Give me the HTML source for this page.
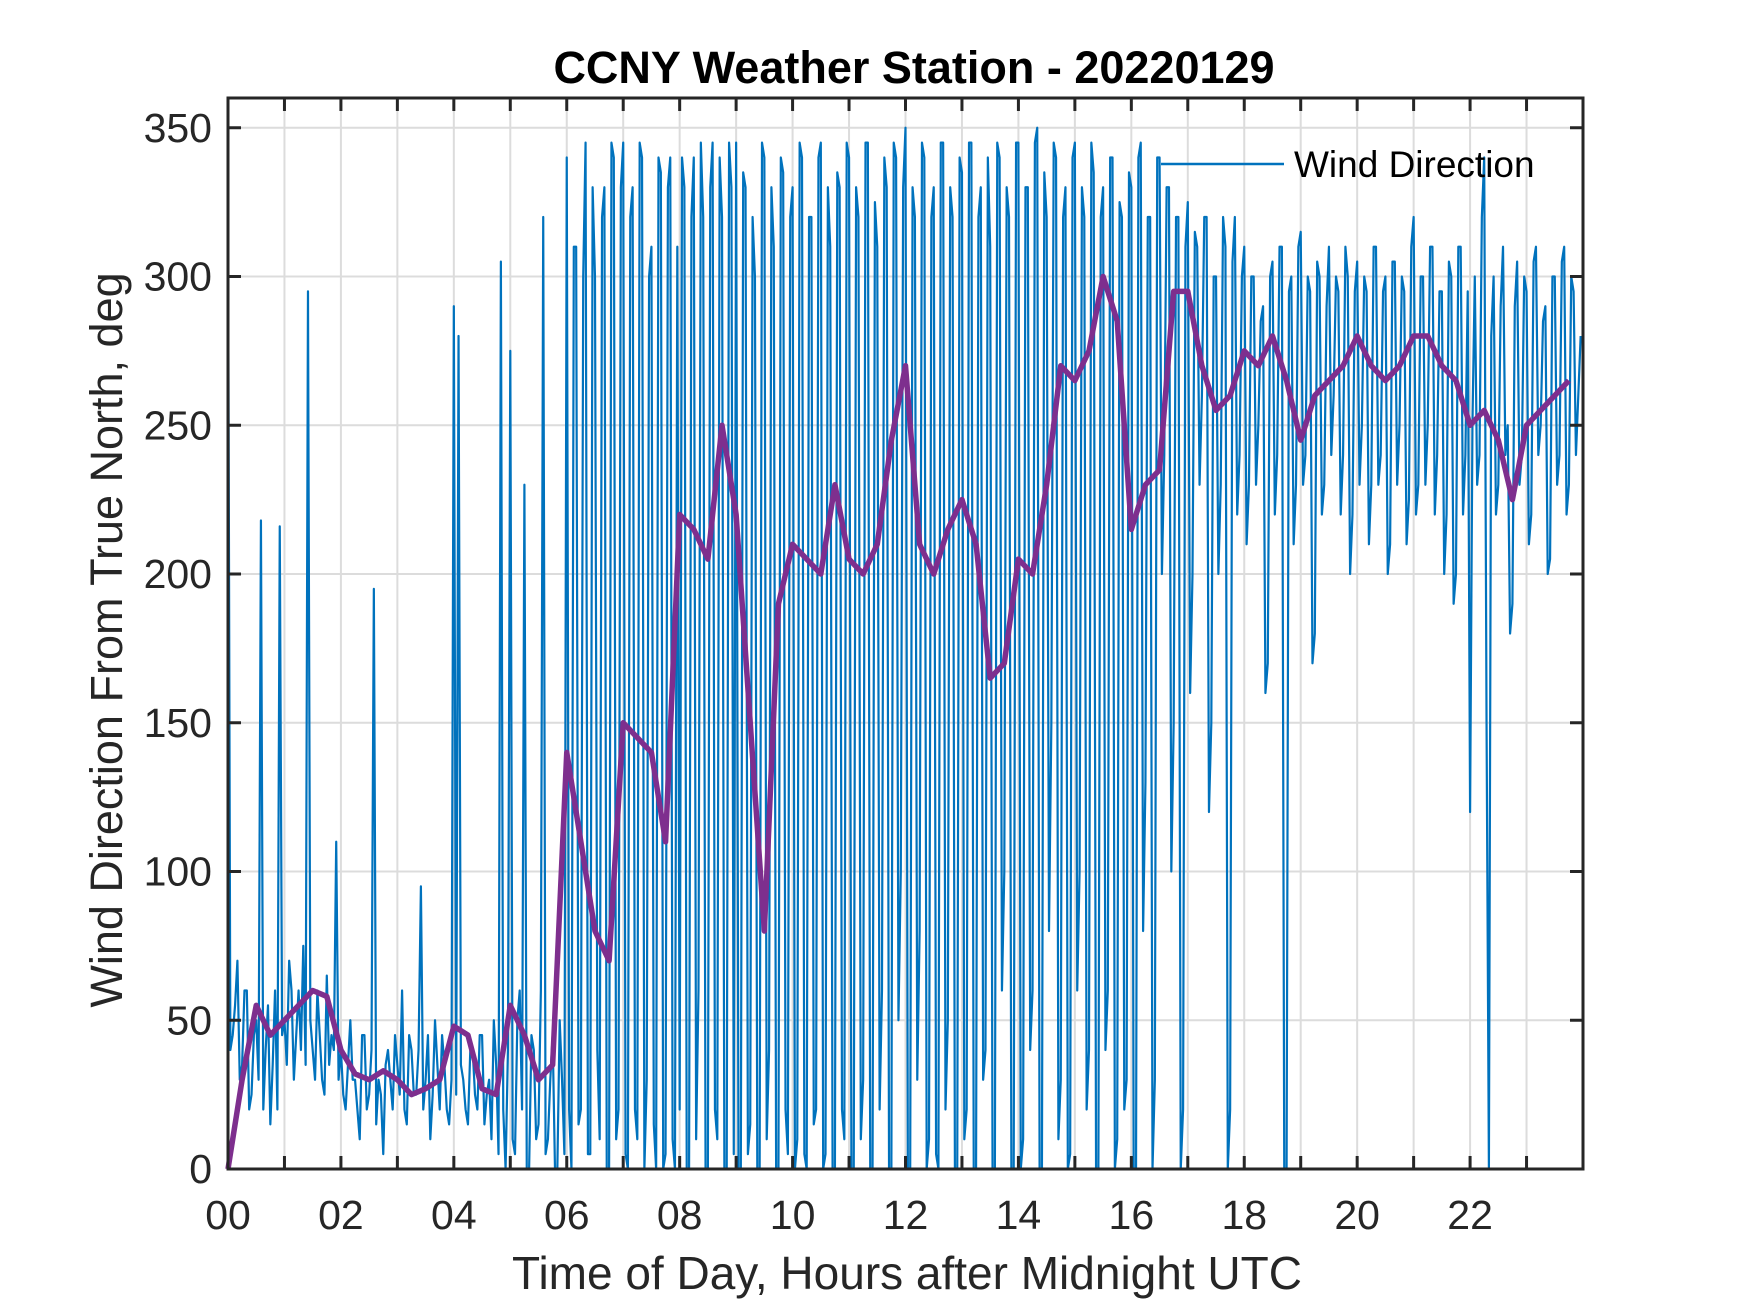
<!DOCTYPE html>
<html><head><meta charset="utf-8"><style>
html,body{margin:0;padding:0;background:#fff;}
svg{display:block;font-family:"Liberation Sans",Arial,sans-serif;}
</style></head><body>
<svg id="chart" width="1750" height="1313" viewBox="0 0 1750 1313">
<rect x="0" y="0" width="1750" height="1313" fill="#fff"/>
<text x="914" y="83" text-anchor="middle" font-size="45" font-weight="bold" fill="#000">CCNY Weather Station - 20220129</text>
<g id="grid"></g>
<g id="series"></g>
<g id="axes"></g>
<text x="907" y="1289" text-anchor="middle" font-size="46" fill="#262626">Time of Day, Hours after Midnight UTC</text>
<text transform="translate(122,640) rotate(-90)" text-anchor="middle" font-size="45" fill="#262626">Wind Direction From True North, deg</text>
<g>
<line x1="1161" y1="164" x2="1284" y2="164" stroke="#0072BD" stroke-width="2.5"/>
<text x="1294" y="177" font-size="37" fill="#000">Wind Direction</text>
</g>
</svg>
<script>
const xTicks=[0,2,4,6,8,10,12,14,16,18,20,22];
const xTickLabels=["00","02","04","06","08","10","12","14","16","18","20","22"];
const yTicks=[0,50,100,150,200,250,300,350];
const windDir=[
325,40,45,55,70,30,35,60,60,20,25,45,50,30,218,20,40,55,15,35,60,20,216,45,
50,35,70,60,30,45,60,40,75,35,295,50,40,30,60,45,30,25,65,35,45,40,110,30,
40,25,20,35,50,30,30,20,10,45,45,20,25,40,195,15,30,25,5,35,40,30,20,45,
35,25,60,20,15,45,40,25,25,40,95,20,30,45,10,25,50,35,20,45,35,20,15,30,
290,25,280,35,30,20,15,40,40,25,20,45,45,15,25,30,10,50,35,5,305,20,0,40,
275,10,5,50,60,20,230,0,0,45,40,10,15,60,320,5,10,30,45,0,0,50,30,5,
340,20,0,310,310,15,20,300,345,5,5,330,300,40,10,320,330,0,0,345,340,10,20,330,
345,5,0,320,330,20,10,345,340,0,30,300,310,15,0,340,335,0,5,330,340,10,0,310,
20,340,330,0,0,320,340,10,60,345,320,0,0,330,345,20,10,340,320,0,0,345,330,5,
345,0,0,335,330,5,15,320,300,0,0,345,340,10,40,330,310,0,0,340,335,20,5,320,
330,0,10,345,340,5,0,320,320,15,20,340,345,0,5,330,310,0,0,335,330,20,10,345,
340,0,0,330,320,10,30,345,345,0,0,325,310,20,60,340,330,0,0,345,340,50,100,330,
350,0,0,330,320,30,80,345,340,0,10,320,330,5,0,345,345,20,50,330,320,0,0,340,
335,10,20,345,345,0,0,320,330,30,40,340,310,0,0,345,340,60,100,330,320,0,0,345,
345,0,10,330,330,40,60,345,350,0,0,335,320,80,150,345,340,10,30,320,330,0,5,340,
345,60,100,330,320,20,40,345,335,0,0,320,330,40,60,340,340,0,10,325,320,20,30,335,
330,0,0,340,345,80,130,320,320,0,30,340,340,200,240,330,330,100,150,320,320,0,20,310,
325,160,200,315,310,230,260,320,320,120,150,300,300,200,230,320,310,0,20,305,320,220,240,300,
310,210,230,300,300,230,250,285,290,160,170,300,305,220,240,310,310,0,0,295,300,210,230,310,
315,230,240,300,295,170,180,305,300,220,230,290,310,240,260,300,295,220,240,310,300,200,220,295,
305,230,250,300,295,210,230,310,310,230,240,295,300,200,210,305,305,230,250,300,295,210,225,310,
320,220,230,300,300,230,250,310,310,220,240,295,295,200,220,305,300,190,200,310,310,220,240,295,
120,250,300,230,240,320,340,150,0,280,300,220,230,290,310,240,250,180,190,290,305,230,240,300,
295,210,220,305,310,240,250,285,290,200,205,300,300,230,240,305,310,220,230,300,295,240,260,280];
const smoothDir=[
0,30,55,45, 50,55,60,58, 40,32,30,33, 30,25,27,30,
48,45,27,25, 55,45,30,35, 140,110,80,70, 150,145,140,110,
220,215,205,250, 220,150,80,190, 210,205,200,230, 205,200,210,245,
270,210,200,215, 225,210,165,170, 205,200,230,270, 265,275,300,285,
215,230,235,295, 295,270,255,260, 275,270,280,265, 245,260,265,270,
280,270,265,270, 280,280,270,265, 250,255,245,225, 250,255,260,265];
const L=228,R=1583,T=98,B=1169,XMAX=24,YMAX=360;
const sx=h=>L+(R-L)*h/XMAX, sy=v=>B-(B-T)*v/YMAX;
const NS="http://www.w3.org/2000/svg";
function mk(tag,attrs,parent){const e=document.createElementNS(NS,tag);for(const k in attrs)e.setAttribute(k,attrs[k]);parent.appendChild(e);return e;}
const grid=document.getElementById('grid'),axes=document.getElementById('axes'),series=document.getElementById('series');
for(let h=1;h<XMAX;h++){const g=mk('line',{x1:sx(h),x2:sx(h),y1:T,y2:B,stroke:'#dcdcdc','stroke-width':2},grid);

}
yTicks.forEach(v=>{if(v===0)return;const g=mk('line',{x1:L,x2:R,y1:sy(v),y2:sy(v),stroke:'#dcdcdc','stroke-width':2},grid);

});
const dt=XMAX/windDir.length;
const p1=mk('polyline',{points:windDir.map((v,i)=>sx(i*dt)+','+sy(v)).join(' '),fill:'none',stroke:'#0072BD','stroke-width':2.2,'stroke-linejoin':'round'},series);


const dt2=XMAX/smoothDir.length;
const p2=mk('polyline',{points:smoothDir.map((v,i)=>sx(i*dt2)+','+sy(v)).join(' '),fill:'none',stroke:'#7E2F8E','stroke-width':5.5,'stroke-linejoin':'round'},series);


const box=mk('rect',{x:L,y:T,width:R-L,height:B-T,fill:'none',stroke:'#262626','stroke-width':3},axes);


for(let h=1;h<XMAX;h++){mk('line',{x1:sx(h),x2:sx(h),y1:B,y2:B-13,stroke:'#262626','stroke-width':3},axes);mk('line',{x1:sx(h),x2:sx(h),y1:T,y2:T+13,stroke:'#262626','stroke-width':3},axes);}
xTicks.forEach((h,i)=>{const t=mk('text',{x:sx(h),y:B+60,'text-anchor':'middle','font-size':41,fill:'#262626'},axes);t.textContent=xTickLabels[i];

});
yTicks.forEach(v=>{mk('line',{x1:L,x2:L+13,y1:sy(v),y2:sy(v),stroke:'#262626','stroke-width':3},axes);mk('line',{x1:R,x2:R-13,y1:sy(v),y2:sy(v),stroke:'#262626','stroke-width':3},axes);
const t=mk('text',{x:L-16,y:sy(v)+14,'text-anchor':'end','font-size':41,fill:'#262626'},axes);t.textContent=v;

});
</script>
</body></html>
